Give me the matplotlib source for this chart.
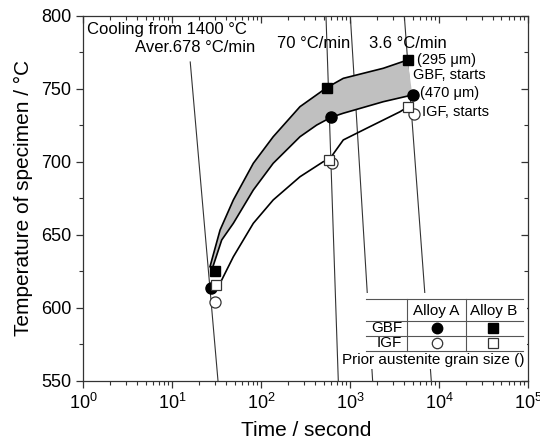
import matplotlib
matplotlib.use('Agg')
import matplotlib.pyplot as plt
from matplotlib.ticker import LogLocator, MultipleLocator, NullFormatter

plt.rcParams['font.family'] = ['Liberation Sans', 'DejaVu Sans']
plt.rcParams['mathtext.fontset'] = 'custom'
plt.rcParams['mathtext.rm'] = 'Liberation Sans'

# transformation start points (time in s, temperature in degC)
gbf_a_t = [27.2, 607, 5010]
gbf_a_T = [613.7, 730.4, 745.7]
gbf_b_t = [30.4, 547, 4450]
gbf_b_T = [625, 750.7, 769.7]
igf_a_t = [29.9, 622, 5140]
igf_a_T = [604, 699, 732.7]
igf_b_t = [30.9, 581, 4400]
igf_b_T = [615.6, 701.2, 737.3]

# smoothed start curves
upper_t = [26.5, 34.4, 48.5, 81.3, 136, 272, 543, 834, 2350, 4415]
upper_T = [628.1, 653.2, 673.8, 698.9, 717.1, 737.7, 750.7, 757.1, 764, 769.7]
lower_t = [28.7, 35.9, 48.5, 81.3, 136, 272, 419, 607, 834, 2350, 4975]
lower_T = [628.4, 646.4, 657.8, 680.6, 698.9, 717.1, 725.1, 730.4, 733.2, 741.1, 745.7]
igf_t = [35.9, 48.5, 81.3, 136, 272, 497, 576, 834, 1527, 3615, 4367]
igf_T = [619, 634.9, 657.8, 673.8, 689.7, 700, 701.2, 714.9, 722.9, 734.2, 737.3]

# cooling curves, (t_top, T_top, t_bottom, T_bottom)
cooling = [
    (15.9, 768.3, 32.6, 550),
    (533, 800, 733, 550),
    (1000, 800, 1782, 550),
    (4045, 800, 8128, 550),
]

fig = plt.figure(figsize=(5.4, 4.41), dpi=100)
ax = fig.add_axes([0.1543, 0.1367, 0.824, 0.8277])

for t0, T0, t1, T1 in cooling:
    ax.plot([t0, t1], [T0, T1], color='#333333', lw=0.8, zorder=1)

band_t = upper_t + lower_t[::-1]
band_T = upper_T + lower_T[::-1]
ax.fill(band_t, band_T, color='#c0c0c0', lw=0, zorder=2)
ax.plot(upper_t, upper_T, color='black', lw=1.2, zorder=3)
ax.plot(lower_t, lower_T, color='black', lw=1.2, zorder=3)
ax.plot(igf_t, igf_T, color='black', lw=1.2, zorder=3)

ax.plot(gbf_a_t, gbf_a_T, 'o', ms=8, mfc='black', mec='black', ls='none', zorder=5)
ax.plot(igf_a_t, igf_a_T, 'o', ms=8, mfc='white', mec='#333333', mew=0.9, ls='none', zorder=5)
ax.plot(igf_b_t, igf_b_T, 's', ms=7.2, mfc='white', mec='#333333', mew=0.9, ls='none', zorder=6)
ax.plot(gbf_b_t, gbf_b_T, 's', ms=7.2, mfc='black', mec='black', ls='none', zorder=6)

ax.set_xscale('log')
ax.set_xlim(1, 1e5)
ax.set_ylim(550, 800)
ax.xaxis.set_major_locator(LogLocator(base=10, numticks=10))
ax.xaxis.set_minor_locator(LogLocator(base=10, subs=range(2, 10), numticks=20))
ax.xaxis.set_minor_formatter(NullFormatter())
ax.yaxis.set_major_locator(MultipleLocator(50))
ax.yaxis.set_minor_locator(MultipleLocator(25))
ax.tick_params(which='both', top=True, right=True, labelsize=13,
               color='#333333', direction='out')
ax.tick_params(which='major', length=5, width=0.9)
ax.tick_params(which='minor', length=3, width=0.8)
for spine in ax.spines.values():
    spine.set_color('#333333')
    spine.set_linewidth(0.9)

# top and right ticks point inward
for tick in ax.xaxis.get_major_ticks() + ax.xaxis.get_minor_ticks():
    tick.tick2line.set_marker(3)
for tick in ax.yaxis.get_major_ticks() + ax.yaxis.get_minor_ticks():
    tick.tick2line.set_marker(0)

ax.set_xlabel('Time / second', fontsize=15, labelpad=6)
ax.set_ylabel('Temperature of specimen / °C', fontsize=15, labelpad=6)

tr = ax.transAxes
fs = 12
ax.text(0.008, 0.961, 'Cooling from 1400 °C', transform=tr, fontsize=fs, va='center', ha='left')
ax.text(0.386, 0.914, 'Aver.678 °C/min', transform=tr, fontsize=fs, va='center', ha='right')
ax.text(0.601, 0.925, '70 °C/min', transform=tr, fontsize=fs, va='center', ha='right')
ax.text(0.642, 0.925, '3.6 °C/min', transform=tr, fontsize=fs, va='center', ha='left')
ax.text(0.750, 0.879, '(295 μm)', transform=tr, fontsize=10.5, va='center', ha='left')
ax.text(0.740, 0.838, 'GBF, starts', transform=tr, fontsize=10.5, va='center', ha='left')
ax.text(0.756, 0.789, '(470 μm)', transform=tr, fontsize=10.5, va='center', ha='left')
ax.text(0.762, 0.737, 'IGF, starts', transform=tr, fontsize=10.5, va='center', ha='left')

# symbol table
ax.add_patch(plt.Rectangle((0.584, 0.032), 0.413, 0.208, transform=tr,
                           facecolor='white', edgecolor='none', zorder=7))
for y in (0.223, 0.164, 0.122, 0.082):
    ax.plot([0.635, 0.988], [y, y], transform=tr, color='#555555', lw=0.8, zorder=8)
for x in (0.728, 0.859):
    ax.plot([x, x], [0.082, 0.223], transform=tr, color='#555555', lw=0.8, zorder=8)
tfs = 11
ax.text(0.793, 0.192, 'Alloy A', transform=tr, fontsize=tfs, ha='center', va='center', zorder=9)
ax.text(0.921, 0.192, 'Alloy B', transform=tr, fontsize=tfs, ha='center', va='center', zorder=9)
ax.text(0.716, 0.144, 'GBF', transform=tr, fontsize=tfs, ha='right', va='center', zorder=9)
ax.text(0.716, 0.103, 'IGF', transform=tr, fontsize=tfs, ha='right', va='center', zorder=9)
ax.plot([0.794], [0.144], 'o', ms=7.5, mfc='black', mec='black', transform=tr, zorder=9)
ax.plot([0.920], [0.144], 's', ms=6.5, mfc='black', mec='black', transform=tr, zorder=9)
ax.plot([0.794], [0.103], 'o', ms=7.5, mfc='white', mec='#333333', mew=0.9, transform=tr, zorder=9)
ax.plot([0.920], [0.103], 's', ms=6.5, mfc='white', mec='#333333', mew=0.9, transform=tr, zorder=9)
ax.text(0.992, 0.057, 'Prior austenite grain size ()', transform=tr, fontsize=tfs,
        ha='right', va='center', zorder=9)

fig.savefig('out.png', dpi=100)
